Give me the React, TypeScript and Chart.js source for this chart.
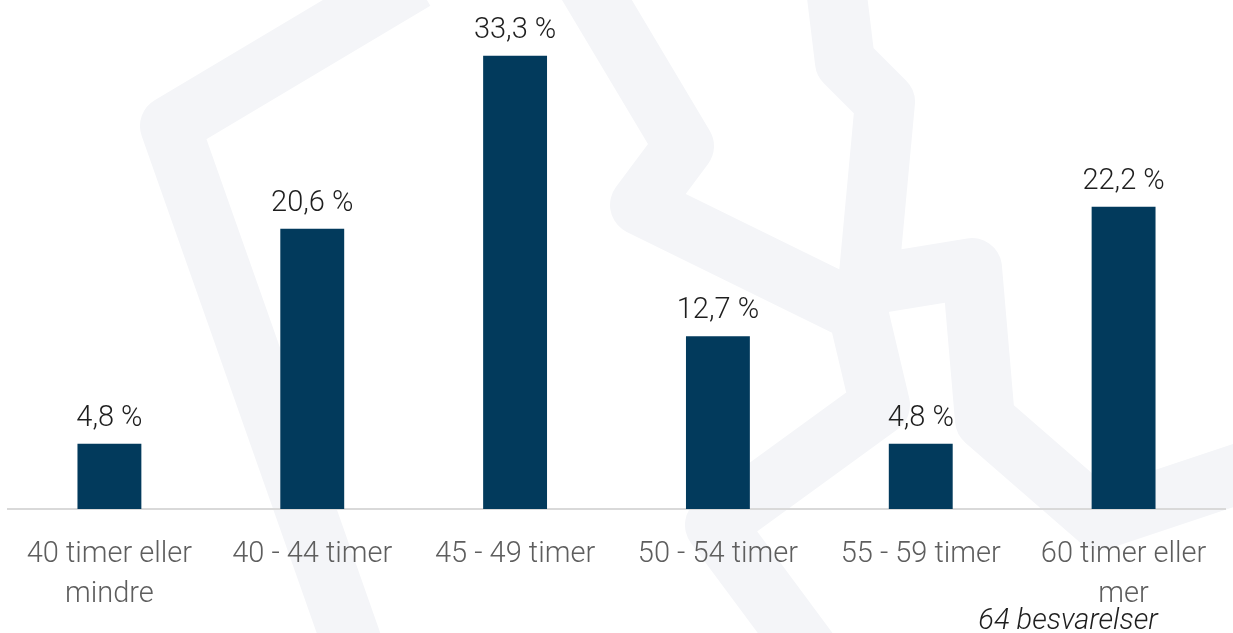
import React, { useEffect, useRef } from "react";
import { Chart, registerables } from "chart.js";

Chart.register(...registerables);

const categories: (string | string[])[] = [
  ["40 timer eller", "mindre"],
  "40 - 44 timer",
  "45 - 49 timer",
  "50 - 54 timer",
  "55 - 59 timer",
  ["60 timer eller", "mer"],
];
const values: number[] = [4.8, 20.6, 33.3, 12.7, 4.8, 22.2];
const valueLabels: string[] = ["4,8 %", "20,6 %", "33,3 %", "12,7 %", "4,8 %", "22,2 %"];
const footnote = "64 besvarelser";

const BAR_COLOR = "#023a5c";
const WM_COLOR = "#f4f5f8";

const watermarkPaths: number[][][] = [
  [[365, 680], [236, 313], [170, 126], [415, -20]],
  [[585, -20], [684, 146], [640, 205], [858, 312], [880, 405], [715, 525], [830, 680]],
  [[835, -20], [845, 62], [885, 102], [868, 285], [972, 268], [985, 420], [1100, 520], [1250, 470]],
];

const watermarkPlugin = {
  id: "watermark",
  beforeDraw(chart: any) {
    const ctx = chart.ctx;
    ctx.save();
    ctx.strokeStyle = WM_COLOR;
    ctx.lineWidth = 60;
    ctx.lineJoin = "round";
    ctx.lineCap = "butt";
    for (const path of watermarkPaths) {
      ctx.beginPath();
      path.forEach(([x, y], i) => (i === 0 ? ctx.moveTo(x, y) : ctx.lineTo(x, y)));
      ctx.stroke();
    }
    ctx.restore();
  },
};

const labelsPlugin = {
  id: "valueLabels",
  afterDatasetsDraw(chart: any) {
    const ctx = chart.ctx;
    const meta = chart.getDatasetMeta(0);
    ctx.save();
    ctx.font = "300 29px Roboto";
    ctx.fillStyle = "#1e1e1e";
    ctx.textAlign = "center";
    ctx.textBaseline = "alphabetic";
    meta.data.forEach((bar: any, i: number) => {
      ctx.fillText(valueLabels[i], bar.x, bar.y - 18);
    });
    ctx.font = "italic 300 29px Roboto";
    ctx.fillText(footnote, 1068, 629);
    ctx.restore();
  },
};

export default function App() {
  const ref = useRef<HTMLCanvasElement | null>(null);
  useEffect(() => {
    if (!ref.current) return;
    const chart = new Chart(ref.current, {
      type: "bar",
      data: {
        labels: categories,
        datasets: [
          {
            data: values,
            backgroundColor: BAR_COLOR,
            barPercentage: 0.315,
            categoryPercentage: 1,
          },
        ],
      },
      options: {
        animation: false,
        responsive: true,
        maintainAspectRatio: false,
        layout: { padding: { left: 8, right: 8, top: 0, bottom: 0 } },
        plugins: { legend: { display: false }, tooltip: { enabled: false } },
        scales: {
          y: { display: false, min: 0, max: 37.4 },
          x: {
            grid: { display: false },
            border: { display: true, color: "#d9d9d9", width: 2 },
            ticks: {
              color: "#5e5e5e",
              padding: 18,
              maxRotation: 0,
              autoSkip: false,
              font: { family: "Roboto", weight: "300" as any, size: 29, lineHeight: "40px" as any },
            },
            afterFit(scale: any) {
              scale.height = 124;
            },
          },
        },
      },
      plugins: [watermarkPlugin, labelsPlugin],
    });
    return () => chart.destroy();
  }, []);
  return (
    <div style={{ position: "absolute", left: 0, top: 0, width: 1233, height: 633, background: "#fff" }}>
      <canvas ref={ref} />
    </div>
  );
}
